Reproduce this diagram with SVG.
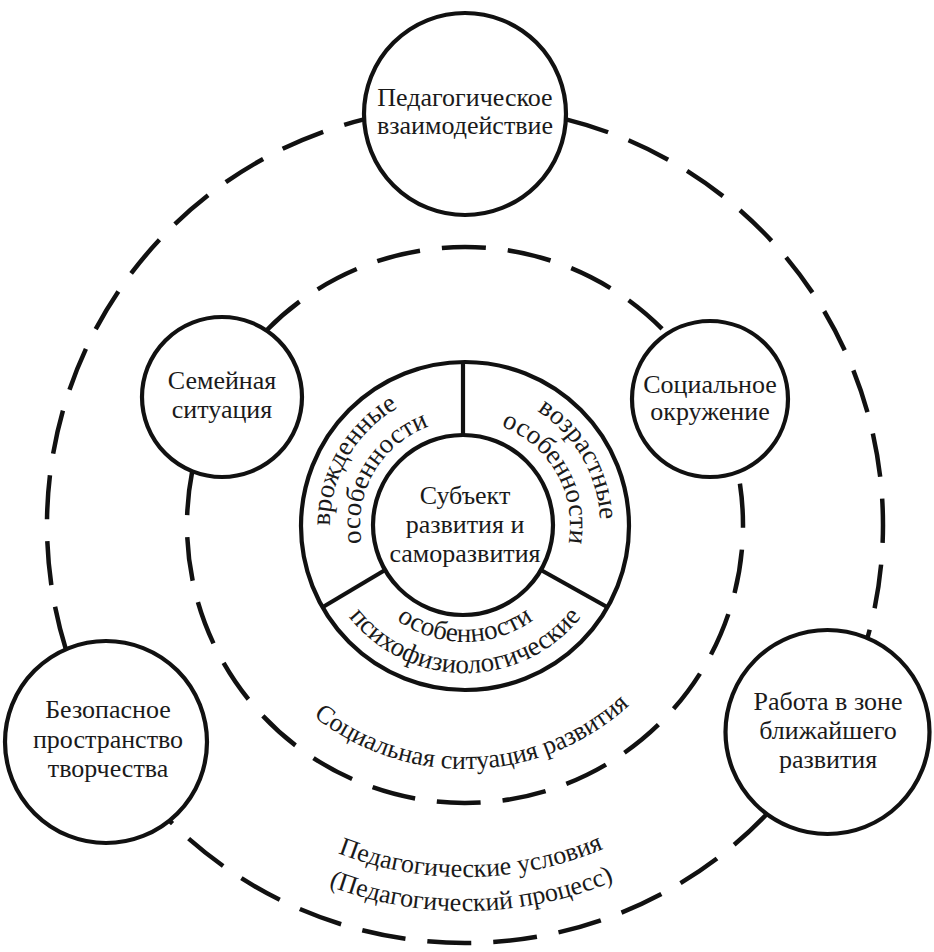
<svg xmlns="http://www.w3.org/2000/svg" xmlns:xlink="http://www.w3.org/1999/xlink" width="934" height="952" viewBox="0 0 934 952">
<style>
.ring{fill:none;stroke:#111;stroke-width:4.5;stroke-dasharray:44 22}
.node{fill:#fff;stroke:#111;stroke-width:4.2}
.div{stroke:#111;stroke-width:4.2;fill:none}
.lbl{font-family:"Liberation Serif","Times New Roman",serif;font-size:26px;fill:#1a1a1a;text-anchor:middle}
.sec{font-size:27px}
</style>
<defs>
<path id="pLo" d="M348.1,592.5 A135,135 0 0,1 465,390"/>
<path id="pLi" d="M374.1,577.5 A105,105 0 0,1 465,420"/>
<path id="pRo" d="M465,390 A135,135 0 0,1 581.9,592.5"/>
<path id="pRi" d="M465,420 A105,105 0 0,1 555.9,577.5"/>
<path id="pBi" d="M363.7,583.5 A117,117 0 0,0 566.3,583.5"/>
<path id="pBo" d="M336.8,599 A148,148 0 0,0 593.2,599"/>
<path id="pSoc" d="M258.1,654.3 A244,244 0 0,0 680.4,639.6"/>
<path id="pPed1" d="M163.3,706.3 A352,352 0 0,0 772.9,695.7"/>
<path id="pPed2" d="M134.1,723.8 A386,386 0 0,0 802.6,712.1"/>
</defs>
<rect width="934" height="952" fill="#fff"/>
<g id="connectors">
<path class="ring" d="M566.1,119.4 A418,418 0 0,1 867.0,639.5"/>
<path class="ring" d="M766.2,814.8 A418,418 0 0,1 169.4,820.6"/>
<path class="ring" d="M65.9,649.3 A418,418 0 0,1 363.9,119.4"/>
<path class="ring" d="M266.4,330.5 A278,278 0 0,1 667.0,334.0"/>
<path class="ring" style="stroke-dashoffset:54" d="M737.9,472.0 A278,278 0 1,1 192.3,471.0"/>
</g>
<g id="ring-labels">
<text class="lbl"><textPath xlink:href="#pSoc" href="#pSoc" startOffset="50%">Социальная ситуация развития</textPath></text>
<text class="lbl"><textPath xlink:href="#pPed1" href="#pPed1" startOffset="50%">Педагогические условия</textPath></text>
<text class="lbl"><textPath xlink:href="#pPed2" href="#pPed2" startOffset="50%">(Педагогический процесс)</textPath></text>
</g>
<g id="node-ped">
<circle class="node" cx="465" cy="114" r="101"/>
<text class="lbl" x="465" y="106">Педагогическое</text>
<text class="lbl" x="465" y="134">взаимодействие</text>
</g>
<g id="node-family">
<circle class="node" cx="222" cy="397" r="80"/>
<text class="lbl" x="222" y="389">Семейная</text>
<text class="lbl" x="222" y="418">ситуация</text>
</g>
<g id="node-social">
<circle class="node" cx="710" cy="399" r="78"/>
<text class="lbl" x="710" y="393">Социальное</text>
<text class="lbl" x="710" y="420">окружение</text>
</g>
<g id="node-safe">
<circle class="node" cx="106" cy="742" r="101"/>
<text class="lbl" x="108" y="718">Безопасное</text>
<text class="lbl" x="108" y="748">пространство</text>
<text class="lbl" x="108" y="777">творчества</text>
</g>
<g id="node-zone">
<circle class="node" cx="827.5" cy="732" r="102"/>
<text class="lbl" x="828" y="710">Работа в зоне</text>
<text class="lbl" x="828" y="739">ближайшего</text>
<text class="lbl" x="828" y="768">развития</text>
</g>
<g id="node-subject">
<circle class="node" cx="465" cy="526" r="164"/>
<line class="div" x1="463" y1="435" x2="463" y2="362"/>
<line class="div" x1="385.1" y1="570" x2="323.8" y2="606.5"/>
<line class="div" x1="540.9" y1="570" x2="606.2" y2="606.5"/>
<circle class="node" cx="463" cy="525" r="90"/>
<text class="lbl sec"><textPath xlink:href="#pLo" href="#pLo" startOffset="50%">врожденные</textPath></text>
<text class="lbl sec"><textPath xlink:href="#pLi" href="#pLi" startOffset="50%">особенности</textPath></text>
<text class="lbl sec"><textPath xlink:href="#pRo" href="#pRo" startOffset="50%">возрастные</textPath></text>
<text class="lbl sec"><textPath xlink:href="#pRi" href="#pRi" startOffset="50%">особенности</textPath></text>
<text class="lbl sec"><textPath xlink:href="#pBi" href="#pBi" startOffset="50%">особенности</textPath></text>
<text class="lbl sec"><textPath xlink:href="#pBo" href="#pBo" startOffset="50%">психофизиологические</textPath></text>
<text class="lbl" x="465" y="504">Субъект</text>
<text class="lbl" x="465" y="533">развития и</text>
<text class="lbl" x="465" y="562">саморазвития</text>
</g>
</svg>
